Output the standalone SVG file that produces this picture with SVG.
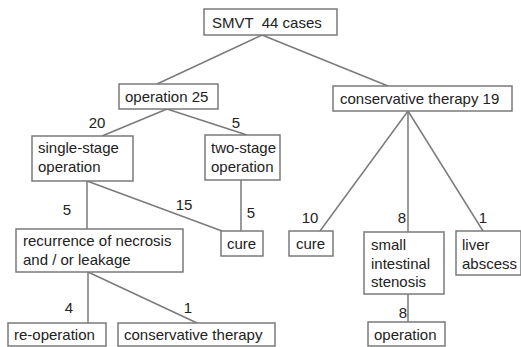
<svg xmlns="http://www.w3.org/2000/svg" width="521" height="347" viewBox="0 0 521 347">
<style>
rect{fill:#fff;stroke:#7a7a7a;stroke-width:1.5}
text{font-family:"Liberation Sans",Arial,sans-serif;font-size:15px;fill:#222}
.lbl{text-anchor:middle}
#connectors line{stroke:#7a7a7a;stroke-width:1.5}
</style>
<rect x="0" y="0" width="521" height="347" style="fill:#fff;stroke:none"/>
<g id="connectors">
<line x1="262" y1="35" x2="157" y2="84"/>
<line x1="262" y1="35" x2="388" y2="86"/>
<line x1="167" y1="109" x2="102" y2="136"/>
<line x1="167" y1="109" x2="247" y2="135"/>
<line x1="408" y1="111" x2="320" y2="231"/>
<line x1="408" y1="111" x2="408" y2="232"/>
<line x1="408" y1="111" x2="483" y2="231"/>
<line x1="87" y1="181" x2="87" y2="229"/>
<line x1="87" y1="181" x2="222" y2="231"/>
<line x1="241" y1="180" x2="241" y2="231"/>
<line x1="88" y1="272" x2="88" y2="323"/>
<line x1="88" y1="272" x2="197" y2="323"/>
<line x1="408" y1="294" x2="408" y2="322"/>
<text class="lbl" x="97" y="128">20</text>
<text class="lbl" x="236" y="128">5</text>
<text class="lbl" x="67" y="215">5</text>
<text class="lbl" x="184" y="210">15</text>
<text class="lbl" x="251" y="218">5</text>
<text class="lbl" x="310" y="223">10</text>
<text class="lbl" x="402" y="223">8</text>
<text class="lbl" x="483" y="223">1</text>
<text class="lbl" x="403" y="318">8</text>
<text class="lbl" x="69" y="313">4</text>
<text class="lbl" x="188" y="313">1</text>
</g>
<g id="smvt"><rect x="204" y="9" width="133" height="26"/><text x="212" y="28" style="white-space:pre">SMVT  44 cases</text></g>
<g id="operation25"><rect x="119" y="84" width="99" height="25"/><text x="125" y="102">operation 25</text></g>
<g id="conservative19"><rect x="333" y="86" width="179" height="25"/><text x="340" y="104">conservative therapy 19</text></g>
<g id="singlestage"><rect x="32" y="136" width="101" height="45"/><text x="38" y="153">single-stage</text><text x="38" y="172">operation</text></g>
<g id="twostage"><rect x="205" y="135" width="75" height="45"/><text x="211" y="153">two-stage</text><text x="211" y="172">operation</text></g>
<g id="recurrence"><rect x="16" y="229" width="167" height="43"/><text x="23" y="246">recurrence of necrosis</text><text x="23" y="265">and / or leakage</text></g>
<g id="cure1"><rect x="221" y="231" width="42" height="25"/><text x="227" y="249">cure</text></g>
<g id="cure2"><rect x="289" y="231" width="44" height="25"/><text x="296" y="249">cure</text></g>
<g id="stenosis"><rect x="364" y="232" width="80" height="62"/><text x="371" y="250">small</text><text x="371" y="269">intestinal</text><text x="371" y="287">stenosis</text></g>
<g id="liver"><rect x="456" y="231" width="65" height="44"/><text x="462" y="250">liver</text><text x="462" y="269">abscess</text></g>
<g id="reoperation"><rect x="8" y="323" width="98" height="23"/><text x="14" y="340">re-operation</text></g>
<g id="conservative1"><rect x="118" y="323" width="157" height="23"/><text x="124" y="340">conservative therapy</text></g>
<g id="operation8"><rect x="368" y="322" width="77" height="24"/><text x="374" y="340">operation</text></g>
</svg>
